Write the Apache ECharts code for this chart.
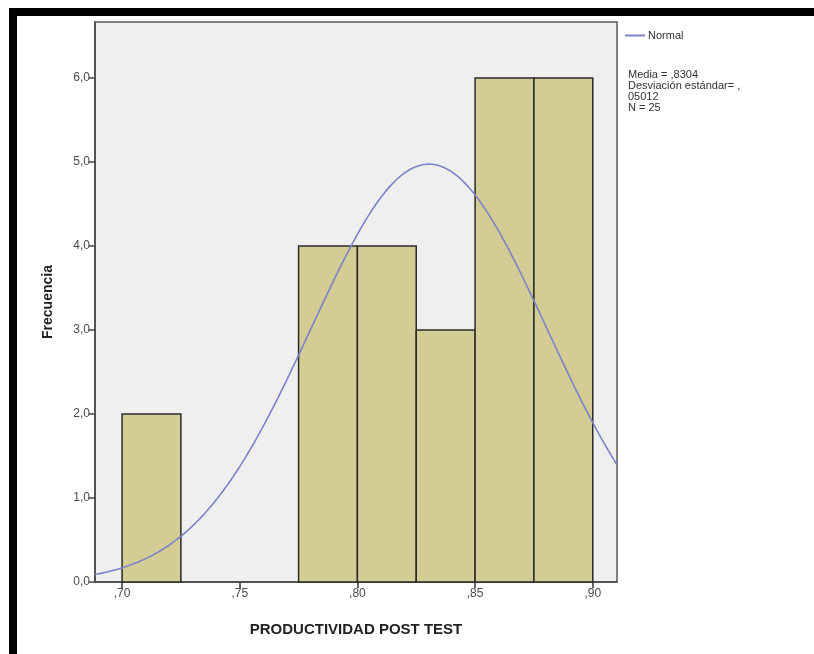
<!DOCTYPE html>
<html>
<head>
<meta charset="utf-8">
<script src="https://cdn.jsdelivr.net/npm/echarts@6/dist/echarts.min.js"></script>
<style>
html,body{margin:0;padding:0;background:#fff;}
#chart{width:814px;height:654px;}
</style>
</head>
<body>
<div id="chart"></div>
<script>
// Histogram bins: [start, end]
var binStarts = [0.700, 0.725, 0.750, 0.775, 0.800, 0.825, 0.850, 0.875];
var binEnds   = [0.725, 0.750, 0.775, 0.800, 0.825, 0.850, 0.875, 0.900];
var counts    = [2, 0, 0, 4, 4, 3, 6, 6];
// Summary statistics shown in the chart
var mean = 0.8304;
var sd = 0.05012;
var n = 25;
var binWidth = 0.025;
// Tick labels
var xTickValues = [0.70, 0.75, 0.80, 0.85, 0.90];
var xTickLabels = [',70', ',75', ',80', ',85', ',90'];
var yTickLabels = ['0,0', '1,0', '2,0', '3,0', '4,0', '5,0', '6,0'];
var xMin = 0.6885, xMax = 0.9103;

var histData = binStarts.map(function (s, i) { return [s, binEnds[i], counts[i]]; });

// Fitted normal curve (from mean, sd, n and bin width)
var curve = [];
var steps = 200;
for (var i = 0; i <= steps; i++) {
  var x = xMin + (xMax - xMin) * i / steps;
  var z = (x - mean) / sd;
  var y = n * binWidth * Math.exp(-0.5 * z * z) / (sd * Math.sqrt(2 * Math.PI));
  curve.push([x, y]);
}

var font = '"Liberation Sans", Arial, sans-serif';
var chart = echarts.init(document.getElementById('chart'));
chart.setOption({
  animation: false,
  backgroundColor: '#ffffff',
  grid: {
    left: 95, top: 22, right: 197, bottom: 72,
    show: true, backgroundColor: '#efefef', borderColor: '#5a5a5a', borderWidth: 1.5
  },
  xAxis: {
    type: 'value', min: xMin, max: xMax,
    name: 'PRODUCTIVIDAD POST TEST', nameLocation: 'middle', nameGap: 40,
    nameTextStyle: { fontFamily: font, fontSize: 15, fontWeight: 'bold', color: '#222' },
    axisLine: { show: true, onZero: false, lineStyle: { color: '#444', width: 1.5 } },
    axisTick: { show: true, length: 6, lineStyle: { color: '#333', width: 1.5 }, customValues: xTickValues },
    axisLabel: {
      customValues: xTickValues, fontFamily: font, fontSize: 12, color: '#4a4a4a', margin: 6,
      formatter: function (v) {
        for (var k = 0; k < xTickValues.length; k++) if (Math.abs(v - xTickValues[k]) < 1e-6) return xTickLabels[k];
        return '';
      }
    },
    splitLine: { show: false }
  },
  yAxis: {
    type: 'value', min: 0, max: 6.667, interval: 1,
    name: 'Frecuencia', nameLocation: 'middle', nameGap: 40, nameRotate: 90,
    nameTextStyle: { fontFamily: font, fontSize: 14, fontWeight: 'bold', color: '#222' },
    axisLine: { show: true, lineStyle: { color: '#444', width: 1.5 } },
    axisTick: { show: true, length: 6, lineStyle: { color: '#444', width: 1.5 } },
    axisLabel: {
      fontFamily: font, fontSize: 12, color: '#4a4a4a', margin: 5, showMaxLabel: false,
      formatter: function (v) { var k = Math.round(v); return (Math.abs(v - k) < 1e-6 && yTickLabels[k]) ? yTickLabels[k] : ''; }
    },
    splitLine: { show: false }
  },
  legend: {
    left: 620, top: 25, icon: 'rect', itemWidth: 20, itemHeight: 2, itemGap: 4,
    textStyle: { fontFamily: font, fontSize: 11, color: '#333', padding: [0, 0, 0, -2] },
    data: [{ name: 'Normal', icon: 'rect' }]
  },
  graphic: [
    { type: 'rect', shape: { x: 9, y: 8, width: 805, height: 8 }, style: { fill: '#000' }, z: 100 },
    { type: 'rect', shape: { x: 9, y: 8, width: 8, height: 646 }, style: { fill: '#000' }, z: 100 },
    {
      type: 'text', left: 628, top: 69, z: 100,
      style: {
        text: 'Media = ,8304\nDesviación estándar= ,\n05012\nN = 25',
        fontFamily: font, fontSize: 11, lineHeight: 11, fill: '#333'
      }
    }
  ],
  series: [
    {
      name: 'Histograma', type: 'custom', data: histData, z: 2,
      encode: { x: [0, 1], y: 2 },
      renderItem: function (params, api) {
        var c = api.value(2);
        if (!c) return null;
        var p0 = api.coord([api.value(0), 0]);
        var p1 = api.coord([api.value(1), c]);
        return {
          type: 'rect',
          shape: { x: p0[0], y: p1[1], width: p1[0] - p0[0], height: p0[1] - p1[1] },
          style: { fill: '#d3cd95', stroke: '#2b2b2b', lineWidth: 1.5 }
        };
      }
    },
    {
      name: 'Normal', type: 'line', data: curve, showSymbol: false, symbol: 'none', z: 5,
      lineStyle: { color: '#7c82c6', width: 1.6 }, itemStyle: { color: '#7c82c6' }
    }
  ]
});
</script>
</body>
</html>
